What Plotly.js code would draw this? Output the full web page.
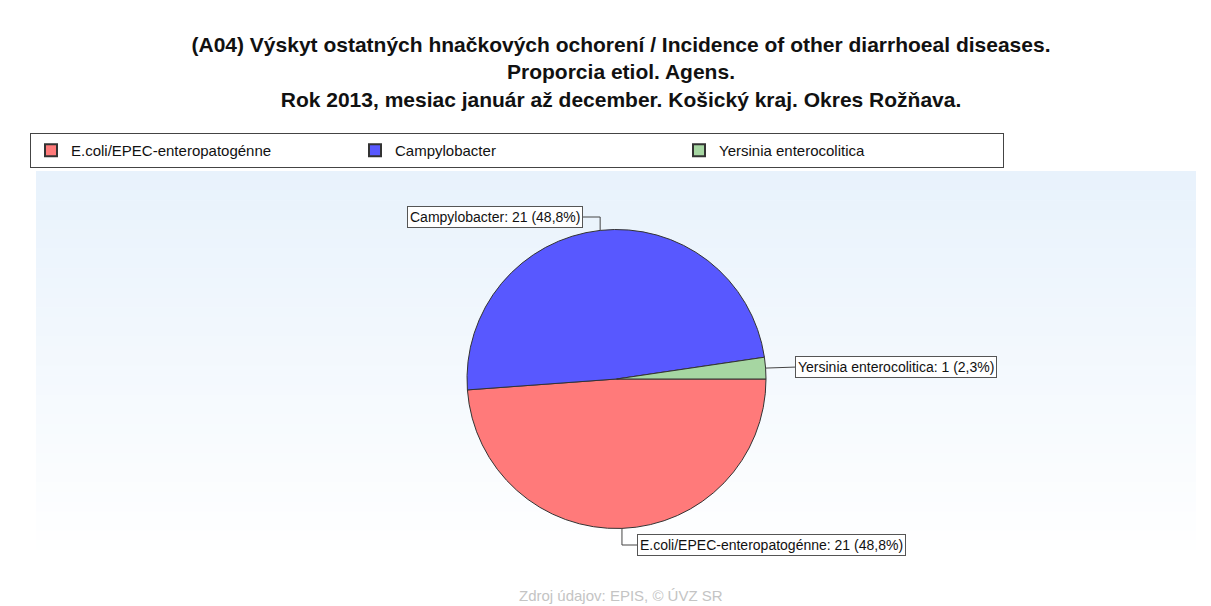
<!DOCTYPE html>
<html>
<head>
<meta charset="utf-8">
<script src="https://cdn.plot.ly/plotly-3.0.1.min.js"></script>
<style>html,body{margin:0;padding:0;background:#fff;}#chart{width:1211px;height:606px;}</style>
</head>
<body>
<div id="chart"></div>
<script>
// ---- data ----
const categories = ["E.coli/EPEC-enteropatogénne", "Campylobacter", "Yersinia enterocolitica"];
const counts = [21, 21, 1];
const sliceColors = ["#ff7a7a", "#5858ff", "#a6d6a2"];
const titleLines = [
  "(A04) Výskyt ostatných hnačkových ochorení / Incidence of other diarrhoeal diseases.",
  "Proporcia etiol. Agens.",
  "Rok 2013, mesiac január až december. Košický kraj. Okres Rožňava."
];
const sourceText = "Zdroj údajov: EPIS, © ÚVZ SR";

// ---- layout helpers ----
const W = 1211, H = 606;
const px = x => x / W;
const py = y => 1 - y / H;
const cx = 616.5, cy = 379, R = 149.5;

const total = counts.reduce((a, b) => a + b, 0);
const pctText = v => (Math.round(v / total * 1000) / 10).toFixed(1).replace('.', ',') + '%';

// mid-angles of slices (start at 3 o'clock, clockwise on screen)
let acc = 0;
const mids = counts.map(v => {
  const start = acc; acc += v;
  const midFrac = (start + v / 2) / total;
  return {x: cx + R * Math.cos(midFrac * 2 * Math.PI), y: cy + R * Math.sin(midFrac * 2 * Math.PI)};
});

// background gradient bands
const shapes = [];
const bgTop = 171, bgBot = 560, bgL = 36, bgR = 1196, nb = 40;
for (let i = 0; i < nb; i++) {
  const t = i / (nb - 1);
  const r = Math.round(232 + (255 - 232) * t);
  const g = Math.round(242 + (255 - 242) * t);
  const b = Math.round(252 + (255 - 252) * t);
  const y0 = bgTop + (bgBot - bgTop) * i / nb;
  const y1 = bgTop + (bgBot - bgTop) * (i + 1) / nb + 0.6;
  shapes.push({type: 'rect', xref: 'paper', yref: 'paper', layer: 'below',
    x0: px(bgL), x1: px(bgR), y0: py(y0), y1: py(y1),
    fillcolor: `rgb(${r},${g},${b})`, line: {width: 0}});
}

// label positions (box anchors) and connectors
const annotations = [];
const lineStyle = {color: '#444', width: 1};
// E.coli (index 0): down then right
{
  const m = mids[0], ly = 545, lx = 637;
  shapes.push({type: 'path', xref: 'paper', yref: 'paper',
    path: `M${px(m.x)},${py(m.y)} L${px(m.x)},${py(ly)} L${px(lx)},${py(ly)}`, line: lineStyle});
  annotations.push({xref: 'paper', yref: 'paper', x: px(lx), y: py(ly), xanchor: 'left', yanchor: 'middle',
    text: `${categories[0]}: ${counts[0]} (${pctText(counts[0])})`});
}
// Campylobacter (index 1): up then left
{
  const m = mids[1], ly = 217, lx = 583;
  shapes.push({type: 'path', xref: 'paper', yref: 'paper',
    path: `M${px(m.x)},${py(m.y)} L${px(m.x)},${py(ly)} L${px(lx)},${py(ly)}`, line: lineStyle});
  annotations.push({xref: 'paper', yref: 'paper', x: px(lx), y: py(ly), xanchor: 'right', yanchor: 'middle',
    text: `${categories[1]}: ${counts[1]} (${pctText(counts[1])})`});
}
// Yersinia (index 2): right
{
  const m = mids[2], lx = 795;
  shapes.push({type: 'path', xref: 'paper', yref: 'paper',
    path: `M${px(m.x)},${py(m.y)} L${px(lx)},${py(m.y - 1)}`, line: lineStyle});
  annotations.push({xref: 'paper', yref: 'paper', x: px(lx), y: py(m.y - 1), xanchor: 'left', yanchor: 'middle',
    text: `${categories[2]}: ${counts[2]} (${pctText(counts[2])})`});
}
annotations.forEach(a => {
  a.showarrow = false;
  a.bgcolor = '#ffffff';
  a.bordercolor = '#555555';
  a.borderwidth = 1;
  a.borderpad = 2;
  a.font = {family: 'Liberation Sans, Arial, sans-serif', size: 14, color: '#111'};
});
annotations.push({xref: 'paper', yref: 'paper', x: px(621), y: 0, xanchor: 'center', yanchor: 'bottom',
  showarrow: false, text: sourceText, font: {family: 'Liberation Sans, Arial, sans-serif', size: 15, color: '#c4c4c4'}});

const trace = {
  type: 'pie',
  labels: categories,
  values: counts,
  sort: false,
  direction: 'clockwise',
  rotation: 90,
  textinfo: 'none',
  hoverinfo: 'label+value+percent',
  marker: {colors: sliceColors, line: {color: '#333333', width: 1}},
  domain: {x: [px(cx - R), px(cx + R)], y: [py(cy + R), py(cy - R)]}
};

const layout = {
  width: W, height: H,
  margin: {l: 0, r: 0, t: 0, b: 0},
  paper_bgcolor: '#ffffff',
  title: {
    text: titleLines.map(s => '<b>' + s + '</b>').join('<br>'),
    x: px(621), xanchor: 'center', y: py(52), yanchor: 'top', yref: 'paper',
    font: {family: 'Liberation Sans, Arial, sans-serif', size: 21, color: '#111'}
  },
  showlegend: true,
  legend: {
    orientation: 'h', x: px(30), xanchor: 'left', y: py(133), yanchor: 'top',
    bordercolor: '#444', borderwidth: 1, bgcolor: '#ffffff',
    entrywidth: 279, entrywidthmode: 'pixels', traceorder: 'normal',
    font: {family: 'Liberation Sans, Arial, sans-serif', size: 15, color: '#111'},
    itemsizing: 'constant'
  },
  shapes: shapes,
  annotations: annotations
};

Plotly.newPlot('chart', [trace], layout, {displayModeBar: false});
</script>
</body>
</html>
